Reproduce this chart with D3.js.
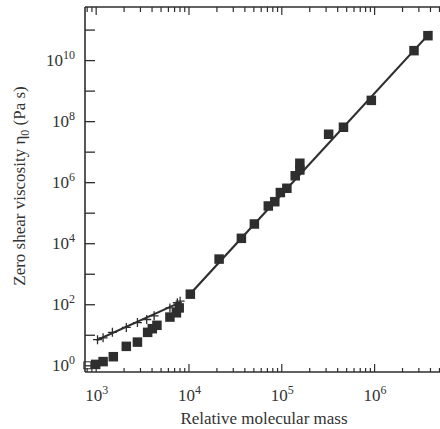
<!DOCTYPE html>
<html>
<head>
<meta charset="utf-8">
<script src="https://cdn.jsdelivr.net/npm/d3@7"></script>
<style>
  html, body { margin: 0; padding: 0; background: #fff; }
  svg text { font-family: "Liberation Serif", "DejaVu Serif", serif; fill: #333; }
</style>
</head>
<body>
<div id="chart"></div>
<script>
// ---- data ----
// low molecular mass series (filled squares)
const lowMass = [1000, 1202, 1549, 2138, 2818, 3631, 4074, 4571, 6310, 7413, 7943];
const lowVisc = [1.07, 1.32, 1.91, 4.17, 5.75, 12.0, 15.8, 20.4, 38.0, 52.5, 75.9];
// second low-M series (plus markers) and its fit line
const plusMass = [1047, 1202, 1514, 2138, 2818, 3548, 4266, 6310, 7586, 8128];
const plusVisc = [6.92, 7.94, 12.0, 17.4, 25.1, 31.6, 41.7, 75.9, 112, 126];
const plusLineMass = [1023, 8128];
const plusLineVisc = [6.6, 115];
// high molecular mass series (filled squares) and fit line
const highMass = [10471, 21380, 37154, 51286, 72444, 85114, 97724, 114815, 141254, 158489, 158489, 323594, 467735, 933254, 2691535, 3801894];
const highVisc = [214, 3020, 14454, 42658, 165959, 229087, 457088, 630957, 1.62e6, 2.51e6, 4.17e6, 3.72e7, 6.31e7, 4.79e8, 2.04e10, 6.31e10];
const highLineMass = [10715, 4.17e6];
const highLineVisc = [240, 8.9e10];
// open square near the origin
const openMass = [813];
const openVisc = [1.0];
// ticks
const xTickLabels = [1e3, 1e4, 1e5, 1e6];
const xTickExp = ["3", "4", "5", "6"];
const yTicks = [1e0, 1e1, 1e2, 1e3, 1e4, 1e5, 1e6, 1e7, 1e8, 1e9, 1e10, 1e11];
const yTickLabels = [1e0, 1e2, 1e4, 1e6, 1e8, 1e10];
const yTickExp = ["0", "2", "4", "6", "8", "10"];

// ---- layout ----
const W = 440, H = 429;
const padL = 85, padR = 440, padT = 7, padB = 372;
const ink = "#2e2e2e";

const svg = d3.select("#chart").append("svg").attr("width", W).attr("height", H);

const x = d3.scaleLog().domain([Math.pow(10, 2.885), Math.pow(10, 6.71)]).range([padL, padR]);
const y = d3.scaleLog().domain([Math.pow(10, -0.22), Math.pow(10, 11.74)]).range([padB, padT]);

const isMajor = d => Math.abs(Math.log10(d) - Math.round(Math.log10(d))) < 1e-9;

// minor + major x ticks
const xMinor = [];
for (let e = 2; e <= 6; e++) for (let m = 1; m <= 9; m++) {
  const v = m * Math.pow(10, e);
  if (v >= x.domain()[0] && v <= x.domain()[1]) xMinor.push(v);
}

// bottom axis
const gB = svg.append("g").attr("transform", `translate(0,${padB})`)
  .call(d3.axisBottom(x).tickValues(xMinor).tickFormat("").tickSize(0));
gB.select(".domain").remove();
gB.selectAll(".tick line").attr("y2", d => isMajor(d) ? -8 : -4)
  .attr("stroke", ink).attr("stroke-width", 1.2);

// top axis
const gT = svg.append("g").attr("transform", `translate(0,${padT})`)
  .call(d3.axisTop(x).tickValues(xMinor).tickFormat("").tickSize(0));
gT.select(".domain").remove();
gT.selectAll(".tick line").attr("y2", d => isMajor(d) ? 8 : 5)
  .attr("stroke", ink).attr("stroke-width", 1.2);

// left axis ticks
const gL = svg.append("g").attr("transform", `translate(${padL},0)`)
  .call(d3.axisLeft(y).tickValues(yTicks).tickFormat("").tickSize(0));
gL.select(".domain").remove();
gL.selectAll(".tick line").attr("x2", 10).attr("stroke", ink).attr("stroke-width", 1.3);

// frame lines
svg.append("line").attr("x1", padL).attr("x2", padR).attr("y1", padB).attr("y2", padB)
  .attr("stroke", ink).attr("stroke-width", 1.6);
svg.append("line").attr("x1", padL).attr("x2", padR).attr("y1", padT).attr("y2", padT)
  .attr("stroke", ink).attr("stroke-width", 1.6);
svg.append("line").attr("x1", padL).attr("x2", padL).attr("y1", padT).attr("y2", padB)
  .attr("stroke", ink).attr("stroke-width", 1.6);

// x tick labels
xTickLabels.forEach((v, i) => {
  const t = svg.append("text").attr("x", x(v) + 1).attr("y", 401)
    .attr("text-anchor", "middle").attr("font-size", 17);
  t.append("tspan").text("10");
  t.append("tspan").attr("font-size", 12).attr("dy", -7).text(xTickExp[i]);
});

// y tick labels
yTickLabels.forEach((v, i) => {
  const t = svg.append("text").attr("x", 75).attr("y", y(v) + 6)
    .attr("text-anchor", "end").attr("font-size", 17);
  t.append("tspan").text("10");
  t.append("tspan").attr("font-size", 12).attr("dy", -7).text(yTickExp[i]);
});

// axis titles
svg.append("text").attr("x", 264).attr("y", 424).attr("text-anchor", "middle")
  .attr("font-size", 17).text("Relative molecular mass");
const yt = svg.append("text").attr("transform", "translate(25,186) rotate(-90)")
  .attr("text-anchor", "middle").attr("font-size", 17);
yt.append("tspan").text("Zero shear viscosity η");
yt.append("tspan").attr("font-size", 12).attr("dy", 4).text("0");
yt.append("tspan").attr("dy", -4).text(" (Pa s)");

// lines
const line = d3.line().x(d => x(d[0])).y(d => y(d[1]));
svg.append("path").datum(highLineMass.map((m, i) => [m, highLineVisc[i]]))
  .attr("d", line).attr("fill", "none").attr("stroke", ink).attr("stroke-width", 2.2);
svg.append("path").datum(plusLineMass.map((m, i) => [m, plusLineVisc[i]]))
  .attr("d", line).attr("fill", "none").attr("stroke", ink).attr("stroke-width", 2);

// plus markers
const ps = 4.5;
svg.append("g").selectAll("path").data(plusMass.map((m, i) => [m, plusVisc[i]])).join("path")
  .attr("d", d => `M${x(d[0]) - ps},${y(d[1])}H${x(d[0]) + ps}M${x(d[0])},${y(d[1]) - ps}V${y(d[1]) + ps}`)
  .attr("stroke", ink).attr("stroke-width", 1.3).attr("fill", "none");

// filled squares
const sq = 9.5;
const sqData = lowMass.map((m, i) => [m, lowVisc[i]]).concat(highMass.map((m, i) => [m, highVisc[i]]));
svg.append("g").selectAll("rect").data(sqData).join("rect")
  .attr("x", d => x(d[0]) - sq / 2).attr("y", d => y(d[1]) - sq / 2)
  .attr("width", sq).attr("height", sq).attr("fill", ink);

// open square
svg.append("g").selectAll("rect").data(openMass.map((m, i) => [m, openVisc[i]])).join("rect")
  .attr("x", d => x(d[0]) - 3.5).attr("y", d => y(d[1]) - 3.5)
  .attr("width", 7).attr("height", 7).attr("fill", "none").attr("stroke", ink).attr("stroke-width", 1);
</script>
</body>
</html>
